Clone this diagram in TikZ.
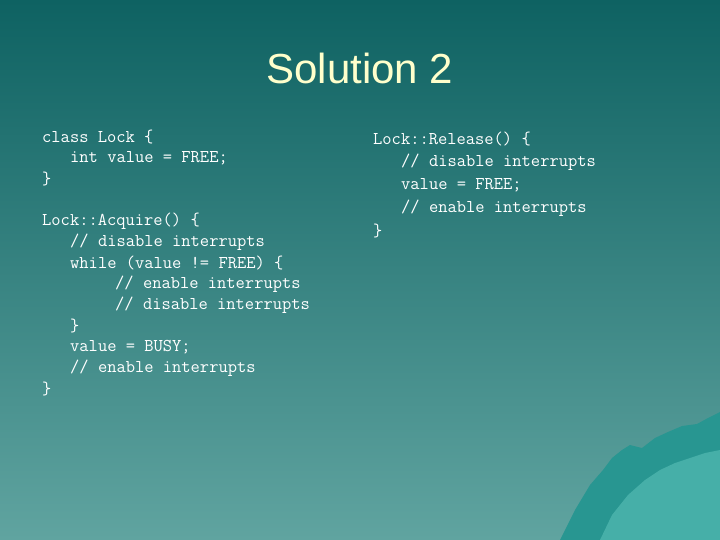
\documentclass[tikz,border=0pt]{standalone}
\usepackage{fontspec}
\setmainfont{Liberation Sans}
\definecolor{bgtop}{RGB}{14,98,98}
\definecolor{bgbot}{RGB}{96,164,160}
\definecolor{titlec}{RGB}{255,255,204}
\definecolor{mtn}{RGB}{40,150,145}
\definecolor{mtnlight}{RGB}{70,175,168}
\tikzset{code/.style={anchor=west,inner sep=0pt,text=white,font=\ttfamily\fontsize{18}{20}\selectfont}}
\begin{document}
\begin{tikzpicture}[x=1pt,y=-1pt]
\useasboundingbox (0,0) rectangle (720,540);
\shade[top color=bgtop,bottom color=bgbot] (0,0) rectangle (720,540);
\fill[mtn] (560,540) -- (575,510) -- (590,485) -- (603,470) -- (612,458) -- (622,450) -- (630,445) -- (642,448) -- (655,438) -- (668,432) -- (682,426) -- (697,424) -- (708,418) -- (720,412) -- (720,540) -- cycle;
\fill[mtnlight] (600,540) -- (612,515) -- (628,495) -- (645,480) -- (660,470) -- (675,463) -- (690,458) -- (705,453) -- (720,450) -- (720,540) -- cycle;
\node[text=titlec,font=\fontsize{42}{46}\selectfont] (title) at (360,68) {Solution 2};
\node[code] (a1) at (42,137) {class Lock \{};
\node[code] (a2) at (70,158) {int value = FREE;};
\node[code] (a3) at (42,179) {\}};
\node[code] (b1) at (42,221) {Lock::Acquire() \{};
\node[code] (b2) at (70,242) {// disable interrupts};
\node[code] (b3) at (70,263) {while (value != FREE) \{};
\node[code] (b4) at (115,284) {// enable interrupts};
\node[code] (b5) at (115,305) {// disable interrupts};
\node[code] (b6) at (70,326) {\}};
\node[code] (b7) at (70,347) {value = BUSY;};
\node[code] (b8) at (70,368) {// enable interrupts};
\node[code] (b9) at (42,389) {\}};
\node[code] (c1) at (373,139) {Lock::Release() \{};
\node[code] (c2) at (401,162) {// disable interrupts};
\node[code] (c3) at (401,185) {value = FREE;};
\node[code] (c4) at (401,208) {// enable interrupts};
\node[code] (c5) at (373,231) {\}};
\end{tikzpicture}
\end{document}
